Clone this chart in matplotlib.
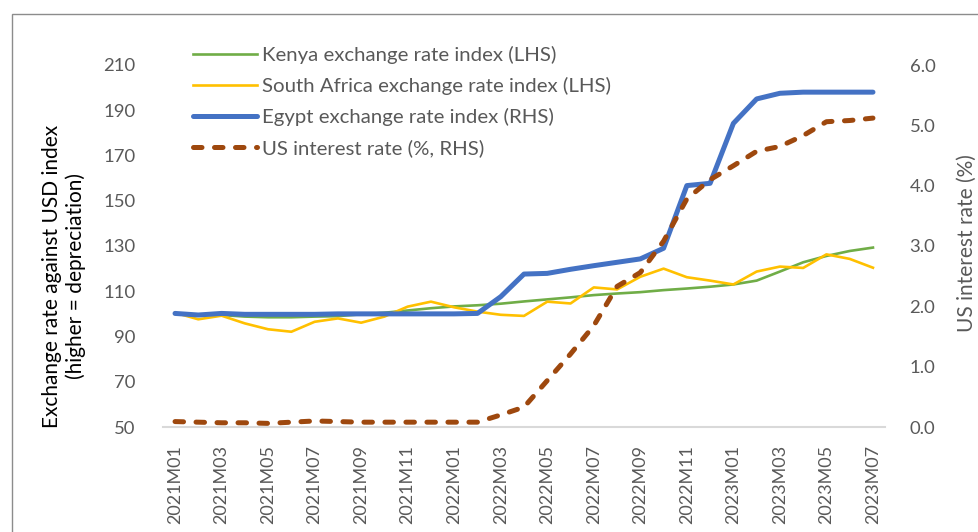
import matplotlib
matplotlib.use("Agg")
import matplotlib.pyplot as plt
from matplotlib.patches import Rectangle

# months 2021M01 .. 2023M07
months = [f"{y}M{m:02d}" for y in (2021, 2022, 2023) for m in range(1, 13)][:31]

kenya = [100, 99.5, 99.5, 98.8, 98.5, 98.5, 98.8, 99, 99.8, 100.5, 101.5, 102.5,
         103.3, 103.8, 104.5, 105.5, 106.4, 107.3, 108.3, 109, 109.6, 110.5, 111.2, 112,
         113, 114.7, 118.7, 122.8, 125.6, 127.8, 129.3]
south_africa = [100.5, 97.6, 99.2, 95.8, 93.2, 92.1, 96.5, 98, 96.1, 98.8, 103.2, 105.4,
                102.9, 101, 99.6, 99.1, 105.4, 104.6, 111.7, 110.8, 116.4, 120, 116.2, 114.7,
                113, 118.7, 120.9, 120.3, 126.3, 124.3, 120.4]
egypt = [100.2, 99.5, 100.2, 99.8, 99.8, 99.8, 99.8, 100, 100, 100, 100, 100,
         100, 100.2, 107.6, 117.6, 117.9, 119.7, 121.3, 122.8, 124.3, 129, 156.7, 157.7,
         184.2, 195, 197.5, 198, 198, 198, 198]
us_rate = [0.09, 0.08, 0.07, 0.07, 0.06, 0.08, 0.10, 0.09, 0.08, 0.08, 0.08, 0.08,
           0.08, 0.08, 0.20, 0.33, 0.77, 1.21, 1.68, 2.33, 2.56, 3.08, 3.78, 4.10,
           4.33, 4.57, 4.65, 4.83, 5.06, 5.08, 5.12]

left_ticks = list(range(50, 211, 20))
right_ticks = [0, 1, 2, 3, 4, 5, 6]

plt.rcParams['font.family'] = ['Lato', 'DejaVu Sans']
grey = "#595959"

fig = plt.figure(figsize=(9.79, 5.32), dpi=100)
W, H = 979, 532
ax = fig.add_axes([163.4 / W, (H - 427) / H, (884.6 - 163.4) / W, (427 - 65) / H])
ax2 = ax.twinx()

x = list(range(len(months)))
l1, = ax.plot(x, kenya, color="#70AD47", lw=1.9, label="Kenya exchange rate index (LHS)")
l2, = ax.plot(x, south_africa, color="#FFC000", lw=1.9, label="South Africa exchange rate index (LHS)")
l3, = ax.plot(x, egypt, color="#4472C4", lw=3.6, solid_capstyle="round", solid_joinstyle="round",
              label="Egypt exchange rate index (RHS)")
l4, = ax2.plot(x, us_rate, color="#9E480E", lw=3.6, dashes=(1.7, 2.5), dash_capstyle="round",
               label="US interest rate (%, RHS)")

ax.set_xlim(-0.5, len(months) - 0.5)
ax.set_ylim(50, 210)
ax2.set_ylim(0, 6)
ax.set_yticks(left_ticks)
ax2.set_yticks(right_ticks)
ax2.set_yticklabels([f"{v:.1f}" for v in right_ticks])
ax.set_xticks(x[::2])
ax.set_xticklabels(months[::2], rotation=90, va="top", ha="center")

for a in (ax, ax2):
    for s in a.spines.values():
        s.set_visible(False)
    a.tick_params(length=0, colors=grey, labelsize=13.3)
ax.spines["bottom"].set_visible(True)
ax.spines["bottom"].set_color("#D9D9D9")
ax.spines["bottom"].set_linewidth(1.5)
ax.tick_params(axis="y", pad=20)
ax.tick_params(axis="x", pad=13, labelsize=13)
ax2.tick_params(axis="y", pad=18)

fig.text(64 / W, 1 - 276 / H, "Exchange rate against USD index\n(higher = depreciation)",
         rotation=90, ha="center", va="center", fontsize=15, color="black", linespacing=1.25)
fig.text(967 / W, 1 - 243 / H, "US interest rate (%)", rotation=90, ha="center", va="center",
         fontsize=15, color=grey)

leg = ax2.legend(handles=[l1, l2, l3, l4], loc="upper left", bbox_to_anchor=(193 / W, 1 - 46 / H),
                 bbox_transform=fig.transFigure, frameon=False, fontsize=14.7, labelcolor=grey,
                 handlelength=3.15, handletextpad=0.25, labelspacing=0.64, borderpad=0, borderaxespad=0)

fig.patches.append(Rectangle((12 / W, -0.1), 1.2, (1 - 14 / H) + 0.1, transform=fig.transFigure,
                             fill=False, edgecolor="#8c8c8c", lw=1.0))

fig.savefig("out.png", dpi=100)
